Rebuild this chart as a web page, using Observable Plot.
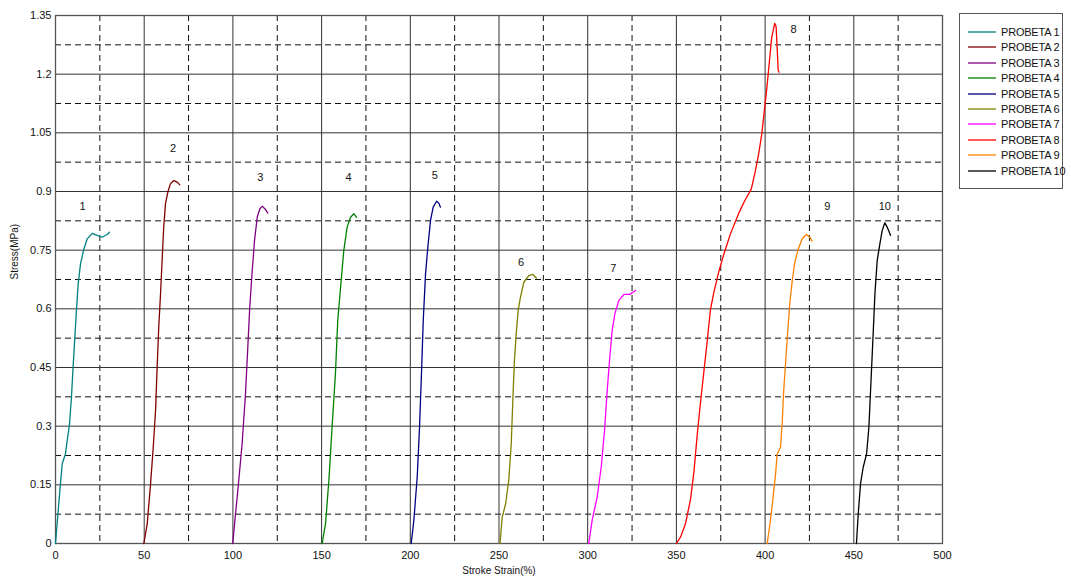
<!DOCTYPE html>
<html>
<head>
<meta charset="utf-8">
<script src="https://cdn.jsdelivr.net/npm/d3@7"></script>
<script src="https://cdn.jsdelivr.net/npm/@observablehq/plot@0.6"></script>
<style>
  body { margin: 0; background: #fff; }
  #wrap { position: relative; width: 1071px; height: 584px; font-family: "Liberation Sans", Arial, sans-serif; }
  #legend { position: absolute; left: 959px; top: 13px; width: 104px; height: 176px; border: 1px solid #555; box-sizing: border-box; background: #fff; }
  .item { position: absolute; left: 8px; height: 14px; font-size: 11px; line-height: 14px; color: #111; white-space: nowrap; letter-spacing: -0.2px; }
  .swatch { display: inline-block; width: 28px; height: 2px; vertical-align: middle; margin-right: 5px; position: relative; top: -1px; opacity: 0.65; }
</style>
</head>
<body>
<div id="wrap"><div id="legend"></div></div>
<script>
const names = ["PROBETA 1","PROBETA 2","PROBETA 3","PROBETA 4","PROBETA 5","PROBETA 6","PROBETA 7","PROBETA 8","PROBETA 9","PROBETA 10"];
const colors = ["#008080","#800000","#800080","#008000","#000080","#808000","#ff00ff","#ff0000","#ff8000","#000000"];

const p1Strain = [0,0.9,2.8,3.8,5.6,6.6,7.9,9.0,9.8,10.9,11.8,12.8,14.1,16.0,17.9,20.7,23.5,26.3,29.1,30.4];
const p1Stress = [0,0.05,0.153,0.204,0.229,0.263,0.306,0.374,0.442,0.527,0.596,0.664,0.715,0.753,0.779,0.793,0.788,0.783,0.790,0.796];
const p2Strain = [49.8,51.7,53.6,55.1,56.4,57.3,58.2,59.2,60.1,61.0,62.0,63.3,64.8,66.7,68.6,70.1];
const p2Stress = [0,0.05,0.153,0.246,0.34,0.451,0.553,0.638,0.724,0.809,0.869,0.898,0.920,0.928,0.924,0.917];
const p3Strain = [99.9,101.5,103.3,105.2,107.1,108.4,109.5,110.9,112.2,113.7,115.2,116.5,118.0,119.7];
const p3Stress = [0,0.076,0.161,0.255,0.383,0.502,0.604,0.698,0.775,0.834,0.856,0.862,0.856,0.845];
const p4Strain = [150.3,152.2,154.1,155.9,157.8,159.1,160.7,162.5,164.4,166.3,168.2,169.7];
const p4Stress = [0,0.05,0.161,0.297,0.434,0.570,0.655,0.749,0.809,0.834,0.843,0.834];
const p5Strain = [200.5,202.0,203.9,205.2,206.3,207.3,208.6,209.9,211.4,212.9,214.8,216.1,217.0];
const p5Stress = [0,0.059,0.170,0.297,0.434,0.570,0.690,0.758,0.826,0.860,0.875,0.870,0.860];
const p6Strain = [250.5,250.8,251.8,253.7,255.5,256.9,257.8,258.7,259.7,260.8,262.1,264.0,266.8,269.1,271.1];
const p6Stress = [0,0.012,0.067,0.101,0.161,0.255,0.366,0.468,0.536,0.596,0.630,0.668,0.685,0.688,0.679];
const p7Strain = [300.6,302.5,305.3,307.6,309.5,311.0,312.3,313.8,315.3,317.5,320.4,323.7,327.0];
const p7Stress = [0,0.059,0.118,0.195,0.289,0.391,0.468,0.545,0.587,0.621,0.637,0.637,0.647];
const p8Strain = [350.0,352.4,355.2,358.0,359.9,361.8,363.6,365.5,367.4,369.2,371.1,373.9,376.7,380.4,385.1,388.8,392.2,394.4,396.3,398.1,399.6,400.9,402.4,403.7,405.4,406.2,406.8,407.4,407.9];
const p8Stress = [0,0.017,0.052,0.114,0.184,0.281,0.361,0.44,0.519,0.598,0.642,0.695,0.739,0.791,0.844,0.879,0.906,0.95,0.994,1.046,1.108,1.161,1.231,1.293,1.330,1.322,1.266,1.209,1.205];
const p9Strain = [401.2,403.0,404.5,405.9,406.8,408.7,409.6,410.5,411.5,412.8,413.9,415.3,416.6,418.4,420.9,423.3,425.2,426.5];
const p9Stress = [0,0.059,0.118,0.178,0.229,0.246,0.306,0.391,0.459,0.545,0.613,0.672,0.715,0.749,0.779,0.790,0.783,0.773];
const p10Strain = [451.5,452.5,453.8,455.3,457.2,458.5,459.8,461.0,461.9,463.2,464.7,466.0,467.5,468.8,470.7];
const p10Stress = [0,0.076,0.153,0.195,0.229,0.297,0.425,0.545,0.638,0.724,0.766,0.800,0.820,0.809,0.788];

const labelText = ["1","2","3","4","5","6","7","8","9","10"];
const labelStrain = [15.3,66.2,115.5,165.2,213.8,262.5,314.5,416.0,435.0,467.5];
const labelStress = [0.862,1.010,0.937,0.937,0.940,0.718,0.703,1.315,0.862,0.862];

const xMajor = [0,50,100,150,200,250,300,350,400,450,500];
const xMinor = [25,75,125,175,225,275,325,375,425,475];
const yMajor = [0,0.15,0.3,0.45,0.6,0.75,0.9,1.05,1.2,1.35];
const yMinor = [0.075,0.225,0.375,0.525,0.675,0.825,0.975,1.125,1.275];

const strains = [p1Strain,p2Strain,p3Strain,p4Strain,p5Strain,p6Strain,p7Strain,p8Strain,p9Strain,p10Strain];
const stresses = [p1Stress,p2Stress,p3Stress,p4Stress,p5Stress,p6Stress,p7Stress,p8Stress,p9Stress,p10Stress];
const data = names.flatMap((n, i) => strains[i].map((x, j) => ({name: n, x, y: stresses[i][j]})));
const labels = labelText.map((t, i) => ({t, x: labelStrain[i], y: labelStress[i]}));

const chart = Plot.plot({
  width: 1071,
  height: 584,
  marginLeft: 55,
  marginRight: 129,
  marginTop: 15,
  marginBottom: 41,
  style: {fontFamily: "Liberation Sans, Arial, sans-serif", fontSize: "11px", background: "#fff", color: "#111"},
  x: {domain: [0, 500]},
  y: {domain: [0, 1.35]},
  color: {domain: names, range: colors},
  marks: [
    Plot.ruleX(xMinor, {stroke: "#111", strokeDasharray: "6,4", strokeWidth: 1}),
    Plot.ruleY(yMinor, {stroke: "#111", strokeDasharray: "6,4", strokeWidth: 1}),
    Plot.ruleX(xMajor, {stroke: "#333", strokeWidth: 1}),
    Plot.ruleY(yMajor, {stroke: "#333", strokeWidth: 1}),
    Plot.frame({stroke: "#555", strokeWidth: 1.3}),
    Plot.axisX(xMajor, {tickSize: 0, tickPadding: 8, label: null, tickFormat: d => String(d)}),
    Plot.axisY(yMajor, {tickSize: 0, tickPadding: 4, label: null, tickFormat: d => String(d)}),
    Plot.line(data, {x: "x", y: "y", z: "name", stroke: "name", strokeWidth: 1.3, curve: "linear"}),
    Plot.text(labels, {x: "x", y: "y", text: "t", fontSize: 11, fill: "#111"}),
    Plot.text(["Stroke Strain(%)"], {frameAnchor: "bottom", dy: 30, fontSize: 10, fill: "#111"}),
    Plot.text(["Stress(MPa)"], {frameAnchor: "left", dx: -41, rotate: -90, fontSize: 10, fill: "#111"})
  ]
});
document.getElementById("wrap").prepend(chart);
chart.style.position = "absolute";
chart.style.left = "0";
chart.style.top = "0";

const legend = document.getElementById("legend");
names.forEach((n, i) => {
  const d = document.createElement("div");
  d.className = "item";
  d.style.top = (11 + i * 15.4) + "px";
  const s = document.createElement("span");
  s.className = "swatch";
  s.style.background = colors[i];
  d.appendChild(s);
  d.appendChild(document.createTextNode(n));
  legend.appendChild(d);
});
</script>
</body>
</html>
